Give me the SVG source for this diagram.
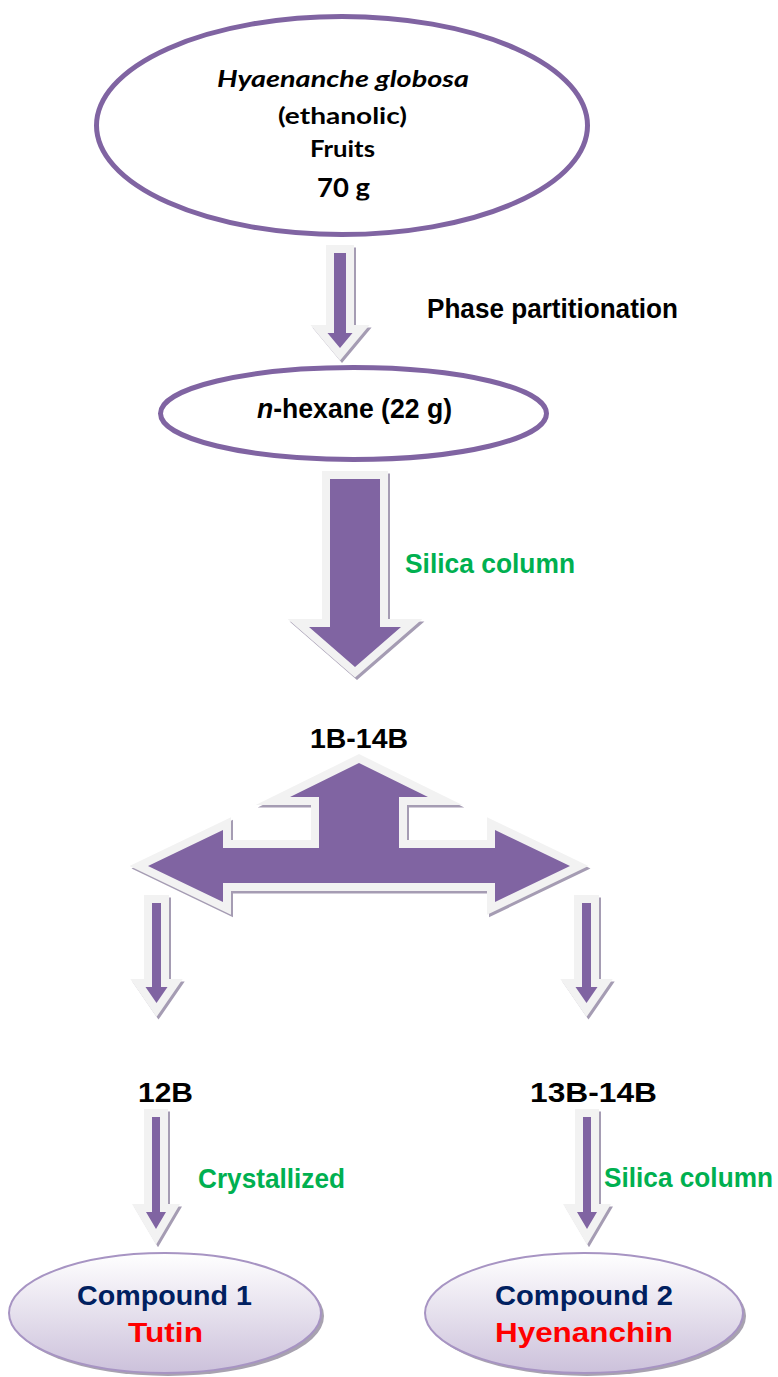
<svg xmlns="http://www.w3.org/2000/svg" xmlns:xlink="http://www.w3.org/1999/xlink" width="778" height="1377" viewBox="0 0 778 1377">
<style>
.ell{fill:#FFFFFF;stroke:#8064A2;stroke-width:5}
.cmp{fill:url(#cg);stroke:#A794C3;stroke-width:2}
.cmpsh{fill:#A8A2B0}
.arr{fill:#8064A2;stroke:#F2F2F2;stroke-width:16;stroke-linejoin:miter;stroke-miterlimit:10;paint-order:stroke}
.sh{fill:#A59CB3;stroke:#A59CB3;stroke-width:16;stroke-linejoin:miter;stroke-miterlimit:10}
.cal{font-family:Lato,"Liberation Sans",sans-serif;font-weight:bold;fill:#000000}
.t{font-family:"Liberation Sans",Arial,sans-serif;font-weight:bold;font-size:27px}
.blk{fill:#000000}
.grn{fill:#00B050}
.nav{fill:#002060}
.red{fill:#FF0000}
</style>
<defs>
<linearGradient id="cg" x1="0" y1="0" x2="0" y2="1">
<stop offset="0" stop-color="#FFFFFF"/>
<stop offset="1" stop-color="#CCC1DB"/>
</linearGradient>
<clipPath id="clip70"><rect x="0" y="0" width="778" height="200.5"/></clipPath>
<polygon id="pA1" points="334,253 346,253 346,333 352.5,333 340,348 327.5,333 334,333"/>
<polygon id="pA2" points="330,479 380,479 380,627 401,627 355,667 309,627 330,627"/>
<polygon id="pT" points="359,763 428,797 399,797 399,848 495,848 495,830 570,866 495,902 495,883 223,883 223,902 148,866 223,830 223,848 319,848 319,797 290,797"/>
<polygon id="pA3" points="152,903 161,903 161,987 167.5,987 156.5,1003 145.5,987 152,987"/>
<polygon id="pA4" points="582,903 591,903 591,987 597.5,987 586.5,1003 575.5,987 582,987"/>
<polygon id="pA5" points="152,1117 160,1117 160,1212 166,1212 156,1229 146,1212 152,1212"/>
<polygon id="pA6" points="583,1117 591,1117 591,1212 597,1212 587,1229 577,1212 583,1212"/>
</defs>
<rect width="778" height="1377" fill="#FFFFFF"/>

<g id="connectors">
<use xlink:href="#pA1" href="#pA1" class="sh" transform="translate(2,2.5)"/>
<use xlink:href="#pA1" href="#pA1" class="arr"/>
<use xlink:href="#pA2" href="#pA2" class="sh" transform="translate(2,2.5)"/>
<use xlink:href="#pA2" href="#pA2" class="arr"/>
<use xlink:href="#pT" href="#pT" class="sh" transform="translate(2,2.5)"/>
<use xlink:href="#pT" href="#pT" class="arr"/>
<use xlink:href="#pA3" href="#pA3" class="sh" transform="translate(2,2.5)"/>
<use xlink:href="#pA3" href="#pA3" class="arr"/>
<use xlink:href="#pA4" href="#pA4" class="sh" transform="translate(2,2.5)"/>
<use xlink:href="#pA4" href="#pA4" class="arr"/>
<use xlink:href="#pA5" href="#pA5" class="sh" transform="translate(2,2.5)"/>
<use xlink:href="#pA5" href="#pA5" class="arr"/>
<use xlink:href="#pA6" href="#pA6" class="sh" transform="translate(2,2.5)"/>
<use xlink:href="#pA6" href="#pA6" class="arr"/>
<text class="t blk" x="427" y="318" textLength="251" lengthAdjust="spacingAndGlyphs">Phase partitionation</text>
<text class="t grn" x="405" y="573" textLength="170" lengthAdjust="spacingAndGlyphs">Silica column</text>
<text class="t grn" x="198" y="1188" textLength="147" lengthAdjust="spacingAndGlyphs">Crystallized</text>
<text class="t grn" x="604" y="1187" textLength="169" lengthAdjust="spacingAndGlyphs">Silica column</text>
</g>

<g id="node-source">
<ellipse class="ell" cx="342" cy="125.5" rx="245.5" ry="109"/>
<text class="cal" x="217" y="87" font-size="23.5" font-style="italic" textLength="252" lengthAdjust="spacingAndGlyphs">Hyaenanche globosa</text>
<text class="cal" x="278" y="124" font-size="23.5" textLength="129" lengthAdjust="spacingAndGlyphs">(ethanolic)</text>
<text class="cal" x="310" y="157" font-size="23.5" textLength="65" lengthAdjust="spacingAndGlyphs">Fruits</text>
<text class="cal" x="317" y="197" font-size="26" textLength="53" lengthAdjust="spacingAndGlyphs" clip-path="url(#clip70)">70 g</text>
</g>

<g id="node-hexane">
<ellipse class="ell" cx="353.5" cy="413.5" rx="193" ry="46"/>
<text class="t blk" x="257" y="418" textLength="195" lengthAdjust="spacingAndGlyphs"><tspan font-style="italic">n</tspan>-hexane (22 g)</text>
</g>

<g id="node-fractions">
<text class="t blk" x="310" y="748" textLength="98" lengthAdjust="spacingAndGlyphs">1B-14B</text>
</g>

<g id="node-12B">
<text class="t blk" x="138" y="1102" textLength="55" lengthAdjust="spacingAndGlyphs">12B</text>
</g>

<g id="node-13B-14B">
<text class="t blk" x="530" y="1102" textLength="127" lengthAdjust="spacingAndGlyphs">13B-14B</text>
</g>

<g id="node-compound1">
<ellipse class="cmpsh" cx="168" cy="1316" rx="156" ry="60"/>
<ellipse class="cmp" cx="165" cy="1313" rx="156" ry="60"/>
<text class="t nav" x="77" y="1305" textLength="175" lengthAdjust="spacingAndGlyphs">Compound 1</text>
<text class="t red" x="128" y="1342" font-size="29" textLength="75" lengthAdjust="spacingAndGlyphs">Tutin</text>
</g>

<g id="node-compound2">
<ellipse class="cmpsh" cx="587" cy="1316" rx="159" ry="60"/>
<ellipse class="cmp" cx="584" cy="1313" rx="159" ry="60"/>
<text class="t nav" x="495" y="1305" textLength="178" lengthAdjust="spacingAndGlyphs">Compound 2</text>
<text class="t red" x="495" y="1342" font-size="29" textLength="178" lengthAdjust="spacingAndGlyphs">Hyenanchin</text>
</g>
</svg>
